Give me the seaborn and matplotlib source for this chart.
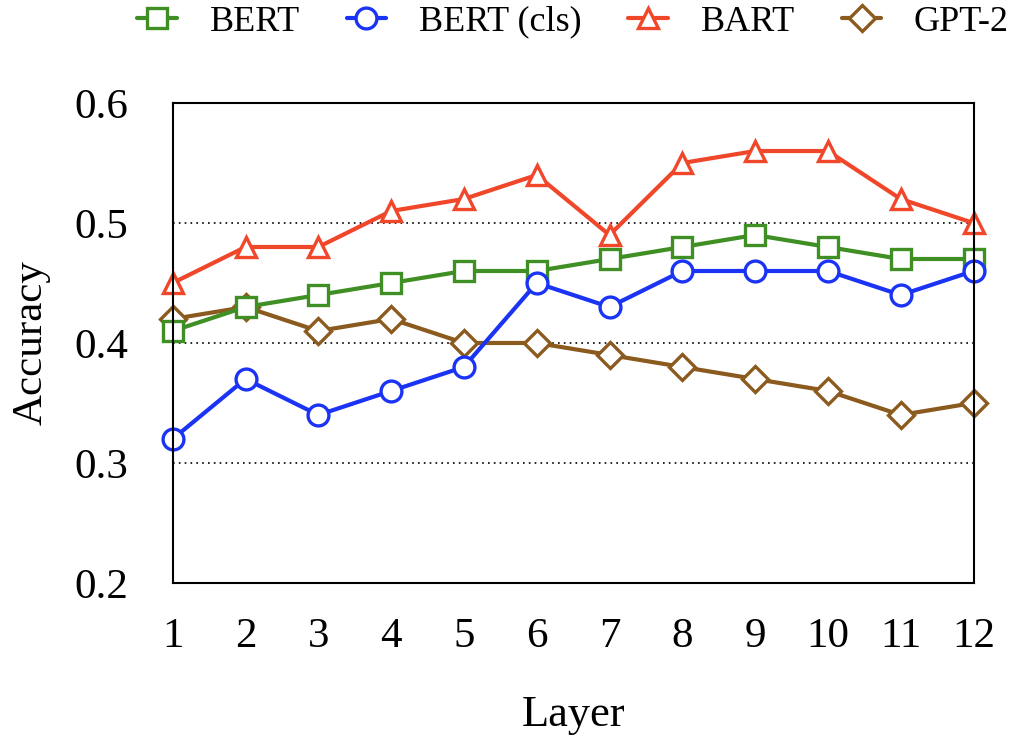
import numpy as np
import pandas as pd
import matplotlib
matplotlib.use("Agg")
import matplotlib.pyplot as plt
import seaborn as sns

# --- DATA ---
layers = list(range(1, 13))
bert = [0.41, 0.43, 0.44, 0.45, 0.46, 0.46, 0.47, 0.48, 0.49, 0.48, 0.47, 0.47]
bert_cls = [0.32, 0.37, 0.34, 0.36, 0.38, 0.45, 0.43, 0.46, 0.46, 0.46, 0.44, 0.46]
bart = [0.45, 0.48, 0.48, 0.51, 0.52, 0.54, 0.49, 0.55, 0.56, 0.56, 0.52, 0.50]
gpt2 = [0.42, 0.43, 0.41, 0.42, 0.40, 0.40, 0.39, 0.38, 0.37, 0.36, 0.34, 0.35]
y_ticks = [0.2, 0.3, 0.4, 0.5, 0.6]

series = [
    ("BERT", bert, "#3f8f25", "s", 3),
    ("BERT (cls)", bert_cls, "#1a33f5", "o", 4),
    ("BART", bart, "#f0462a", "^", 3),
    ("GPT-2", gpt2, "#8b5a1e", "D", 2),
]

sns.set_style("white")
plt.rcParams['font.family'] = ['Liberation Serif', 'DejaVu Serif']
plt.rcParams['text.color'] = 'black'
plt.rcParams['axes.labelcolor'] = 'black'
plt.rcParams['xtick.color'] = 'black'
plt.rcParams['ytick.color'] = 'black'

fig, ax = plt.subplots(figsize=(10.28, 7.36), dpi=100)
fig.subplots_adjust(left=0.168, right=0.947, top=0.86, bottom=0.208)

for name, vals, color, marker, z in series:
    df = pd.DataFrame({"Layer": layers, "Accuracy": vals})
    ms = 15 if marker != "D" else 13
    sns.lineplot(data=df, x="Layer", y="Accuracy", ax=ax, color=color, linewidth=3,
                 marker=marker, markersize=ms, markerfacecolor="white",
                 markeredgecolor=color, markeredgewidth=2.4, label=name,
                 zorder=z, clip_on=False)

for yv in [0.3, 0.4, 0.5]:
    ax.axhline(yv, color="black", ls=(0, (1, 2.5)), lw=1.2, zorder=1)

ax.set_xlim(1, 12)
ax.set_ylim(0.2, 0.6)
ax.set_xticks(layers)
ax.set_yticks(y_ticks)
ax.set_yticklabels([f"{v:.1f}" for v in y_ticks])
ax.tick_params(axis="both", labelsize=31, length=0)
ax.tick_params(axis="x", pad=25)
ax.tick_params(axis="y", pad=32)
ax.set_xlabel("Layer", fontsize=32, labelpad=28)
ax.set_ylabel("Accuracy", fontsize=31, labelpad=17)
for sp in ax.spines.values():
    sp.set_color("black")
    sp.set_linewidth(1.5)
    sp.set_zorder(5)

ax.legend(loc="center", bbox_to_anchor=(0.5, 1.169), ncol=4, frameon=False,
          fontsize=26, handlelength=1.1, handletextpad=0.9, columnspacing=1.3,
          borderaxespad=0.0)

fig.savefig("out.png", dpi=100)
